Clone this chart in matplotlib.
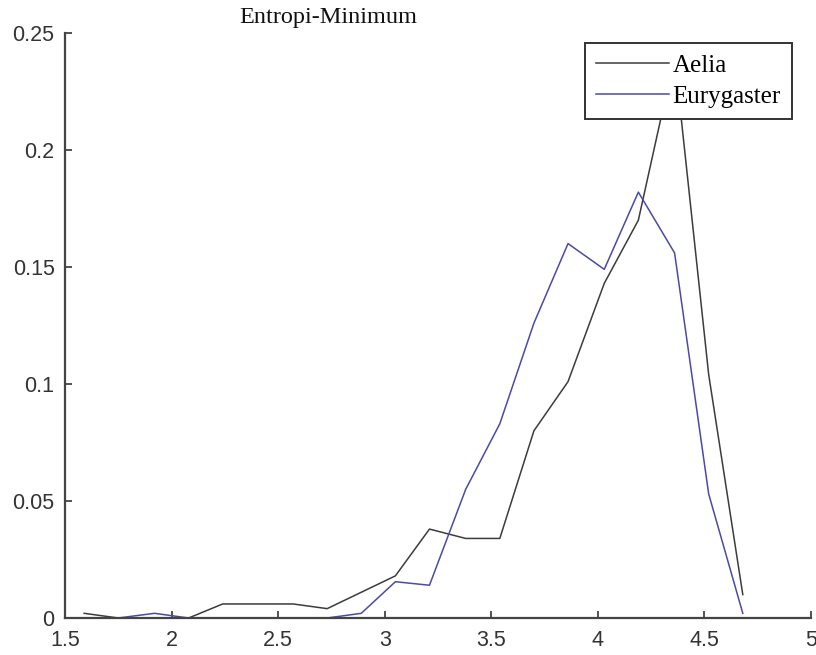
import matplotlib
matplotlib.use("Agg")
import matplotlib.pyplot as plt

# values
x = [1.59, 1.75, 1.92, 2.08, 2.24, 2.41, 2.57, 2.73, 2.89, 3.05,
     3.21, 3.38, 3.54, 3.70, 3.86, 4.03, 4.19, 4.36, 4.52, 4.68]
aelia = [0.002, 0.0, 0.0, 0.0, 0.006, 0.006, 0.006, 0.004, 0.011, 0.018,
         0.038, 0.034, 0.034, 0.080, 0.101, 0.143, 0.170, 0.240, 0.104, 0.010]
eurygaster = [0.0, 0.0, 0.002, 0.0, 0.0, 0.0, 0.0, 0.0, 0.002, 0.0155,
              0.014, 0.055, 0.083, 0.126, 0.160, 0.149, 0.182, 0.156, 0.053, 0.002]
x_ticks = [1.5, 2, 2.5, 3, 3.5, 4, 4.5, 5]
x_labels = ["1.5", "2", "2.5", "3", "3.5", "4", "4.5", "5"]
y_ticks = [0, 0.05, 0.1, 0.15, 0.2, 0.25]
y_labels = ["0", "0.05", "0.1", "0.15", "0.2", "0.25"]

fig = plt.figure(figsize=(8.16, 6.55), dpi=100)
ax = fig.add_axes([65 / 816, 37 / 655, 746 / 816, 585 / 655])

ax.plot(x, aelia, color="#3c3c3c", lw=1.1, label="Aelia")
ax.plot(x, eurygaster, color="#4a4aa8", lw=1.1, label="Eurygaster")

ax.set_xlim(1.5, 5)
ax.set_ylim(0, 0.25)
ax.set_xticks(x_ticks)
ax.set_xticklabels(x_labels)
ax.set_yticks(y_ticks)
ax.set_yticklabels(y_labels)

for side in ("top", "right"):
    ax.spines[side].set_visible(False)
for side in ("left", "bottom"):
    ax.spines[side].set_color("#444444")
    ax.spines[side].set_linewidth(1.6)

ax.tick_params(direction="in", length=5, width=1.3, color="#444444",
               labelsize=15.5, labelcolor="#333333")
ax.tick_params(axis="x", pad=9)
ax.tick_params(axis="y", pad=7.5)
for lab in ax.get_xticklabels() + ax.get_yticklabels():
    lab.set_family("Liberation Sans")

fig.text(328 / 816, 1 - 18 / 655, "Entropi-Minimum", ha="center", va="center",
         family="Liberation Serif", fontsize=17.5, color="#111111")

leg = ax.legend(loc="upper right", bbox_to_anchor=(0.9745, 0.983),
                borderaxespad=0, fancybox=False, framealpha=1,
                edgecolor="#333333", handlelength=2.9, handletextpad=0.15,
                labelspacing=0.35, borderpad=0.45,
                prop={"family": "Liberation Serif", "size": 18})
leg.get_frame().set_linewidth(1.4)

fig.savefig("out.png", dpi=100)
